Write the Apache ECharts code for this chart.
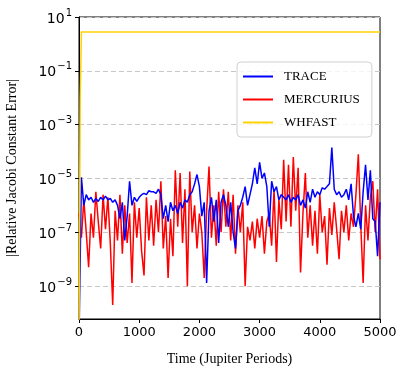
<!DOCTYPE html>
<html>
<head>
<meta charset="utf-8">
<script src="https://cdn.jsdelivr.net/npm/echarts@6/dist/echarts.min.js"></script>
<style>
	html, body { margin: 0; padding: 0; background: #fff; }
	#main { width: 407px; height: 380px; }
</style>
</head>
<body>
<div id="main"></div>
<script>
// sampling of TRACE / MERCURIUS outputs (Jupiter periods)
const step = 40;
const times = Array.from({ length: 126 }, (v, i) => i * step);

const traceErr = [
	1e-11, 1.1e-5, 1e-6, 2.5e-6, 1.6e-6, 2e-6, 1.3e-6, 1.8e-6, 1.4e-6, 2e-6,
	1.6e-6, 2.2e-6, 1.6e-6, 1.8e-6, 1.3e-6, 1.6e-6, 1e-6, 3.2e-7, 1.3e-6, 5e-8,
	4e-7, 7.9e-6, 1e-6, 2e-6, 1.4e-6, 2e-6, 2.5e-6, 2.8e-6, 2.5e-6, 3.5e-6,
	3.2e-6, 3.2e-6, 2.8e-6, 4e-6, 2.5e-6, 3.2e-7, 1e-6, 2.5e-7, 1.3e-6, 6.3e-7,
	1e-6, 5e-7, 1.3e-6, 7.9e-7, 1.6e-6, 1.3e-6, 2.5e-6, 3.2e-6, 6.3e-6, 1.4e-5,
	5e-6, 4e-7, 1.3e-6, 1.3e-9, 6.3e-7, 2e-6, 2.5e-7, 1.6e-6, 4e-8, 1.3e-6,
	2.5e-6, 1e-6, 1.6e-7, 1.3e-6, 1e-7, 2.5e-8, 6.3e-7, 1e-6, 2e-6, 5e-6,
	1e-6, 2.5e-6, 6.3e-6, 2.5e-5, 6.3e-6, 4e-5, 1e-5, 1.6e-5, 5e-6, 1.6e-7,
	7.9e-6, 3.2e-6, 5e-6, 1.6e-6, 2.5e-6, 2e-6, 1.6e-6, 2.5e-6, 1.3e-6, 2e-6,
	1.6e-6, 2.5e-6, 1e-6, 1.6e-6, 7.9e-7, 3.2e-6, 1.3e-6, 4e-6, 2e-6, 3.2e-6,
	2.5e-6, 4.5e-6, 4e-6, 5e-6, 6.3e-6, 1.4e-4, 4e-6, 2.5e-6, 3.2e-6, 2e-6,
	2.5e-6, 4e-6, 1.6e-6, 6.3e-6, 4e-7, 1.6e-7, 5e-7, 1.3e-7, 3.2e-6, 3.2e-5,
	1.6e-6, 2e-5, 3.2e-7, 2.5e-7, 1.3e-8, 1.3e-6
];

const mercuriusErr = [
	5e-7, 6.3e-8, 1.6e-6, 1e-7, 5e-9, 5e-7, 6.3e-8, 3.2e-6, 2.5e-7, 2.5e-8,
	2.5e-6, 1.3e-7, 2e-6, 4e-8, 2e-10, 6.3e-7, 5e-8, 2.5e-6, 1.6e-8, 1e-6,
	4e-8, 5e-7, 1.3e-9, 1.3e-6, 6.3e-8, 7.9e-7, 2e-8, 2.5e-9, 2e-6, 5e-8,
	1e-6, 3.2e-8, 1.6e-6, 1e-7, 7.9e-6, 2.5e-8, 4e-7, 2e-9, 3.2e-7, 1.3e-8,
	2e-5, 1.6e-7, 1.6e-5, 4e-8, 4e-6, 1e-9, 1.8e-5, 1e-7, 1e-6, 2.5e-8,
	5e-7, 1e-7, 2e-9, 6.3e-7, 2.8e-5, 6.3e-8, 1e-6, 3.2e-8, 3.2e-6, 1e-7,
	4e-6, 1.6e-7, 3.2e-6, 5e-8, 2.5e-6, 1.6e-8, 1e-6, 1e-7, 1.3e-6, 1e-9,
	1.6e-7, 5e-8, 2.5e-7, 2.5e-8, 3.2e-7, 6.3e-8, 4e-7, 1.6e-8, 2.5e-7, 5e-7,
	3.2e-8, 4e-6, 7.9e-9, 1.6e-6, 1.3e-7, 5e-5, 2.5e-7, 3.2e-5, 1.6e-7, 6.3e-5,
	6.3e-7, 2.5e-5, 3.2e-9, 5e-7, 1.6e-5, 6.3e-8, 1e-6, 3.2e-8, 6.3e-7, 1.6e-8,
	2.5e-6, 1e-7, 4e-7, 6.3e-9, 7.9e-7, 7.9e-8, 1.3e-6, 1.3e-7, 1e-8, 6.3e-7,
	1e-7, 1e-6, 5e-8, 5e-7, 1.6e-7, 2.5e-6, 7.9e-5, 2e-7, 1.3e-9, 1e-6,
	5e-8, 2e-6, 7.9e-6, 1e-7, 4e-6, 1e-8
];

const whfastT = [0, 20, 40, 5000];
const whfastErr = [1e-11, 1e-2, 2.8, 2.8];

const yTicks = [10, 1e-1, 1e-3, 1e-5, 1e-7, 1e-9];
const xTicks = [0, 1000, 2000, 3000, 4000, 5000];

function pairs(xs, ys) {
	return xs.map((x, i) => [x, ys[i]]);
}

const chart = echarts.init(document.getElementById('main'), null, { renderer: 'canvas' });

const serif = 'Liberation Serif';
const sans = 'DejaVu Sans';

chart.setOption({
	animation: false,
	grid: {
		left: 79,
		right: 27,
		top: 17,
		bottom: 61,
		containLabel: false,
		outerBoundsMode: 'none',
		show: true,
		borderColor: '#000',
		borderWidth: 1,
		backgroundColor: 'transparent'
	},
	legend: {
		orient: 'vertical',
		left: 237,
		top: 62,
		itemWidth: 30,
		itemHeight: 2,
		itemGap: 10,
		padding: [8, 12, 8, 6],
		icon: 'rect',
		backgroundColor: 'rgba(255,255,255,0.8)',
		borderColor: '#d0d0d0',
		borderWidth: 1,
		borderRadius: 4,
		textStyle: {
			fontFamily: serif,
			fontSize: 13,
			color: '#000',
			padding: [0, 0, 0, 6]
		},
		data: ['TRACE', 'MERCURIUS', 'WHFAST']
	},
	xAxis: {
		type: 'value',
		min: 0,
		max: 5000,
		interval: 1000,
		name: 'Time (Jupiter Periods)',
		nameLocation: 'middle',
		nameGap: 33,
		nameTextStyle: { fontFamily: serif, fontSize: 14, color: '#000' },
		axisLine: { lineStyle: { color: '#000', width: 1 } },
		axisTick: { show: true, length: 4, lineStyle: { color: '#000' } },
		axisLabel: {
			fontFamily: sans,
			fontSize: 13,
			color: '#000',
			margin: 7,
			formatter: v => (xTicks.indexOf(v) >= 0 ? String(v) : '')
		},
		splitLine: { show: false }
	},
	yAxis: {
		type: 'log',
		logBase: 10,
		min: 6e-11,
		max: 10,
		name: '|Relative Jacobi Constant Error|',
		nameLocation: 'middle',
		nameGap: 60,
		nameTextStyle: { fontFamily: serif, fontSize: 14, color: '#000' },
		axisLine: { show: true, lineStyle: { color: '#000', width: 1 } },
		axisTick: { show: true, length: 4, lineStyle: { color: '#000' }, customValues: yTicks },
		minorTick: { show: false },
		axisLabel: {
			customValues: yTicks,
			margin: 7,
			formatter: function (v) {
				const e = Math.round(Math.log10(v));
				return '{b|10}{s|' + (e < 0 ? '\u2212' + (-e) : e) + '}';
			},
			rich: {
				b: { fontFamily: sans, fontSize: 14, color: '#000', verticalAlign: 'bottom' },
				s: { fontFamily: sans, fontSize: 10, color: '#000', verticalAlign: 'top', padding: [0, 0, 8, 1] }
			}
		},
		splitLine: {
			show: true,
			lineStyle: { color: '#c8c8c8', type: [5, 3], width: 1 }
		}
	},
	series: [
		{
			name: 'MERCURIUS',
			type: 'line',
			data: pairs(times, mercuriusErr),
			showSymbol: false,
			symbol: 'none',
			lineStyle: { color: '#ff0000', width: 1.5 },
			itemStyle: { color: '#ff0000' },
			z: 2
		},
		{
			name: 'TRACE',
			type: 'line',
			data: pairs(times, traceErr),
			showSymbol: false,
			symbol: 'none',
			lineStyle: { color: '#0000ff', width: 1.5 },
			itemStyle: { color: '#0000ff' },
			z: 3
		},
		{
			name: 'WHFAST',
			type: 'line',
			data: pairs(whfastT, whfastErr),
			showSymbol: false,
			symbol: 'none',
			lineStyle: { color: '#ffd200', width: 1.5 },
			itemStyle: { color: '#ffd200' },
			z: 4
		}
	]
});
</script>
</body>
</html>
